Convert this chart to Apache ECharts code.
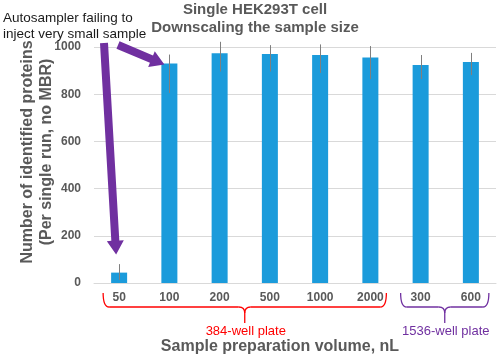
<!DOCTYPE html>
<html>
<head>
<meta charset="utf-8">
<script src="https://cdn.jsdelivr.net/npm/echarts@6/dist/echarts.min.js"></script>
<style>
  html, body { margin: 0; padding: 0; background: #fff; }
  #chart { width: 498px; height: 357px; }
</style>
</head>
<body>
<div id="chart"></div>
<script>
// data
var volumes = ["50", "100", "200", "500", "1000", "2000", "300", "600"];
var proteinCounts = [44, 930, 973, 970, 966, 956, 924, 936];
var errHigh = [80, 968, 1022, 1008, 1011, 1004, 966, 975];
var errLow = [13, 805, 896, 896, 890, 864, 864, 881];
var yTicks = [0, 200, 400, 600, 800, 1000];
var plateGroups = [
  { name: "384-well plate", from: 0, to: 5, color: "#ff0000" },
  { name: "1536-well plate", from: 6, to: 7, color: "#7030a0" }
];

var grey = "#595959";
var purple = "#7030a0";
var chart = echarts.init(document.getElementById("chart"));

var option = {
  animation: false,
  grid: { left: 94, right: 2, top: 47, bottom: 74 },
  xAxis: {
    type: "category",
    data: volumes,
    axisLine: { lineStyle: { color: "#d9d9d9", width: 1 } },
    axisTick: { show: false },
    axisLabel: {
      color: grey,
      fontWeight: "bold",
      fontSize: 12,
      fontFamily: "Liberation Sans",
      margin: 9
    }
  },
  yAxis: {
    type: "value",
    min: yTicks[0],
    max: yTicks[yTicks.length - 1],
    interval: 200,
    splitLine: { lineStyle: { color: "#d9d9d9", width: 1 } },
    axisLine: { show: false },
    axisTick: { show: false },
    axisLabel: {
      color: grey,
      fontWeight: "bold",
      fontSize: 12,
      fontFamily: "Liberation Sans",
      margin: 13,
      formatter: function (v) { return String(v); }
    }
  },
  series: [
    {
      type: "bar",
      data: proteinCounts,
      barWidth: 16,
      itemStyle: { color: "#1b9bdb" }
    },
    {
      type: "custom",
      clip: false,
      z: 5,
      data: volumes.map(function (v, i) { return [i, errLow[i], errHigh[i]]; }),
      renderItem: function (params, api) {
        var lo = api.coord([api.value(0), api.value(1)]);
        var hi = api.coord([api.value(0), api.value(2)]);
        var x = Math.round(lo[0]) + 0.5;
        return {
          type: "line",
          shape: { x1: x, y1: lo[1], x2: x, y2: hi[1] },
          style: { stroke: "#7f7f7f", lineWidth: 1 }
        };
      }
    }
  ]
};
chart.setOption(option);

// annotations placed from the chart's own coordinates
function px(i, v) { return chart.convertToPixel({ gridIndex: 0 }, [i, v]); }

function arrow(x1, y1, x2, y2, w, headLen, headW, color) {
  var dx = x2 - x1, dy = y2 - y1;
  var len = Math.sqrt(dx * dx + dy * dy);
  var ux = dx / len, uy = dy / len, nx = -uy, ny = ux;
  var bx = x2 - ux * headLen, by = y2 - uy * headLen;
  var pts = [
    [x1 + nx * w / 2, y1 + ny * w / 2],
    [bx + nx * w / 2, by + ny * w / 2],
    [bx + nx * headW / 2, by + ny * headW / 2],
    [x2, y2],
    [bx - nx * headW / 2, by - ny * headW / 2],
    [bx - nx * w / 2, by - ny * w / 2],
    [x1 - nx * w / 2, y1 - ny * w / 2]
  ];
  return { type: "polygon", shape: { points: pts }, style: { fill: color }, z: 10 };
}

// curly brace made of curves and straight lines
function brace(xa, xb, y0, y1, y2, color) {
  var xc = (xa + xb) / 2, r = 6;
  var st = { stroke: color, fill: null, lineWidth: 1.3 };
  function curve(ax, ay, cx, cy, bx, by) {
    return { type: "bezierCurve", z: 10, style: st,
      shape: { x1: ax, y1: ay, cpx1: cx, cpy1: cy, x2: bx, y2: by } };
  }
  function seg(ax, ay, bx, by) {
    return { type: "line", z: 10, style: st,
      shape: { x1: ax, y1: ay, x2: bx, y2: by } };
  }
  return [
    curve(xa, y0, xa, y1, xa + r, y1),
    seg(xa + r, y1, xc - r, y1),
    curve(xc - r, y1, xc, y1, xc, y1 + r),
    seg(xc, y1 + r, xc, y2),
    curve(xc + r, y1, xc, y1, xc, y1 + r),
    seg(xc + r, y1, xb - r, y1),
    curve(xb, y0, xb, y1, xb - r, y1)
  ];
}

var base = px(0, 0)[1];
var bar50 = px(0, proteinCounts[0]);
var bar100 = px(1, proteinCounts[1]);
var g = [];

g.push(arrow(104, 43, bar50[0] - 3, bar50[1] - 18, 8, 14, 17, purple));
g.push(arrow(118, 45, bar100[0] - 5, bar100[1] + 1, 8, 14, 17, purple));

plateGroups.forEach(function (p) {
  var xa = px(p.from, 0)[0] - (p.from === 0 ? 16 : 20);
  var xb = px(p.to, 0)[0] + (p.to === 5 ? 16 : 18);
  g = g.concat(brace(xa, xb, base + 10, base + 24, base + 40, p.color));
  g.push({ type: "text", z: 10, style: {
    text: p.name, x: (xa + xb) / 2 + 1, y: base + 48,
    fill: p.color, fontSize: 13, fontFamily: "Liberation Sans",
    align: "center", verticalAlign: "middle" } });
});

g.push({ type: "text", z: 10, style: {
  text: "Single HEK293T cell\nDownscaling the sample size",
  x: 255, y: 19, fill: grey, fontSize: 15, fontWeight: "bold",
  fontFamily: "Liberation Sans", lineHeight: 18,
  align: "center", verticalAlign: "middle" } });

g.push({ type: "text", z: 11, style: {
  text: "Autosampler failing to\ninject very small sample",
  x: 3, y: 26, fill: "#1a1a1a", fontSize: 13.5,
  fontFamily: "Liberation Sans", lineHeight: 16,
  align: "left", verticalAlign: "middle" } });

g.push({ type: "text", z: 10, style: {
  text: "Sample preparation volume, nL",
  x: 280, y: 347, fill: grey, fontSize: 16, fontWeight: "bold",
  fontFamily: "Liberation Sans", align: "center", verticalAlign: "middle" } });

g.push({ type: "text", z: 10, rotation: Math.PI / 2, x: 37, y: 152, style: {
  text: "Number of identified proteins\n(Per single run, no MBR)",
  x: 0, y: 0, fill: grey, fontSize: 16, fontWeight: "bold",
  fontFamily: "Liberation Sans", lineHeight: 19,
  align: "center", verticalAlign: "middle" } });

chart.setOption({ graphic: { elements: g } });
</script>
</body>
</html>
